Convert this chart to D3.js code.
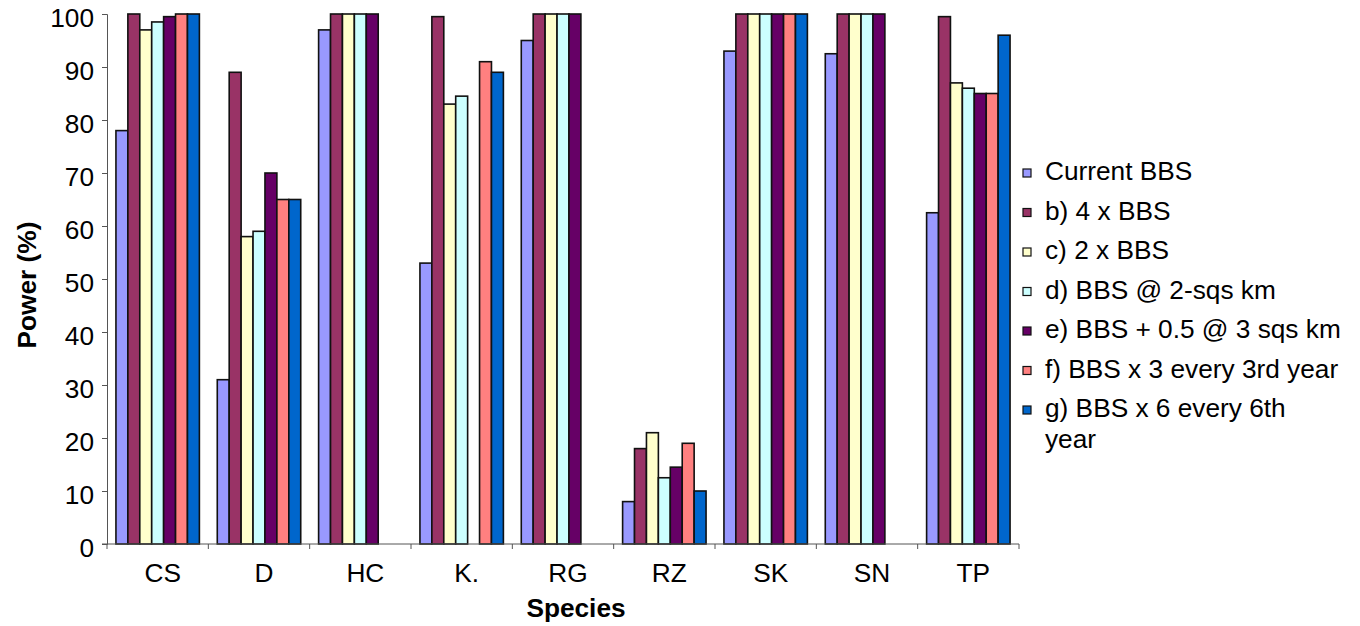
<!DOCTYPE html>
<html>
<head>
<meta charset="utf-8">
<script src="https://cdn.jsdelivr.net/npm/d3@7"></script>
<style>
  html, body { margin: 0; padding: 0; background: #fff; }
  svg { display: block; font-family: "Liberation Sans", Arial, sans-serif; }
</style>
</head>
<body>
<svg id="chart" width="1360" height="626"></svg>
<script>
const categories = ["CS", "D", "HC", "K.", "RG", "RZ", "SK", "SN", "TP"];
const seriesNames = [
  "Current BBS",
  "b) 4 x BBS",
  "c) 2 x BBS",
  "d) BBS @ 2-sqs km",
  "e) BBS + 0.5 @ 3 sqs km",
  "f) BBS x 3 every 3rd year",
  "g) BBS x 6 every 6th year"
];
const seriesColors = ["#9999FF", "#993366", "#FFFFCC", "#CCFFFF", "#660066", "#FF8080", "#0066CC"];
// values per series, in category order (null = no bar)
const currentBBS = [78, 31, 97, 53, 95, 8, 93, 92.5, 62.5];
const bbs4x      = [100, 89, 100, 99.5, 100, 18, 100, 100, 99.5];
const bbs2x      = [97, 58, 100, 83, 100, 21, 100, 100, 87];
const bbs2sqs    = [98.5, 59, 100, 84.5, 100, 12.5, 100, 100, 86];
const bbsHalf3   = [99.5, 70, 100, null, 100, 14.5, 100, 100, 85];
const bbs3x3rd   = [100, 65, null, 91, null, 19, 100, null, 85];
const bbs6x6th   = [100, 65, null, 89, null, 10, 100, null, 96];
const seriesValues = [currentBBS, bbs4x, bbs2x, bbs2sqs, bbsHalf3, bbs3x3rd, bbs6x6th];
const yTicks = [0, 10, 20, 30, 40, 50, 60, 70, 80, 90, 100];

(function () {
const svg = d3.select("#chart");
const pLeft = 107, pRight = 1019, pTop = 14, pBottom = 544;
const FS = 25, SX = 1.05;

const x = d3.scaleBand().domain(categories).range([pLeft, pRight]).padding(0);
const bw = x.bandwidth();
const w = bw / 8.5;
const xs = d3.scaleBand().domain(d3.range(seriesNames.length)).range([0.75 * w, bw - 0.75 * w]).padding(0);
const y = d3.scaleLinear().domain([0, 100]).range([pBottom, pTop]);

// bars
seriesValues.forEach((vals, si) => {
  svg.append("g").selectAll("rect")
    .data(vals.map((v, ci) => ({ v, c: categories[ci] })).filter(d => d.v != null))
    .join("rect")
    .attr("x", d => x(d.c) + xs(si))
    .attr("y", d => y(d.v))
    .attr("width", xs.bandwidth())
    .attr("height", d => y(0) - y(d.v))
    .attr("fill", seriesColors[si])
    .attr("stroke", "#111")
    .attr("stroke-width", 1.6);
});

// y axis
const yAxis = d3.axisLeft(y).tickValues(yTicks).tickSize(5).tickFormat(d3.format("d"));
const gy = svg.append("g").attr("transform", `translate(${pLeft},0)`).call(yAxis);
gy.select(".domain").attr("stroke", "#555");
gy.selectAll(".tick line").attr("stroke", "#555");
gy.selectAll(".tick text").remove();
yTicks.forEach(t => {
  svg.append("text")
    .attr("transform", `translate(94,${y(t) + 13}) scale(${SX},1)`)
    .attr("text-anchor", "end")
    .attr("font-size", FS)
    .text(t);
});

// x axis
const gx = svg.append("g").attr("transform", `translate(0,${pBottom})`);
gx.append("line").attr("x1", pLeft - 5).attr("x2", pRight).attr("stroke", "#555");
const boundaries = categories.map(c => x(c)).concat([pRight]);
gx.selectAll("line.tk").data(boundaries).join("line").attr("class", "tk")
  .attr("x1", d => d).attr("x2", d => d).attr("y1", 0).attr("y2", 5).attr("stroke", "#555");
categories.forEach(c => {
  svg.append("text")
    .attr("transform", `translate(${x(c) + bw / 2 + 5},${pBottom + 38}) scale(${SX},1)`)
    .attr("text-anchor", "middle")
    .attr("font-size", FS)
    .text(c);
});

// axis titles
svg.append("text")
  .attr("transform", `translate(576,617) scale(${SX},1)`)
  .attr("text-anchor", "middle").attr("font-size", FS).attr("font-weight", "bold")
  .text("Species");
svg.append("text")
  .attr("transform", `translate(36,285) rotate(-90) scale(${SX},1)`)
  .attr("text-anchor", "middle").attr("font-size", FS).attr("font-weight", "bold")
  .text("Power (%)");

// legend
const legendLines = [
  ["Current BBS"],
  ["b) 4 x BBS"],
  ["c) 2 x BBS"],
  ["d) BBS @ 2-sqs km"],
  ["e) BBS + 0.5 @ 3 sqs km"],
  ["f) BBS x 3 every 3rd year"],
  ["g) BBS x 6 every 6th", "year"]
];
const lg = svg.append("g");
legendLines.forEach((lines, i) => {
  const cy = 171 + i * 39.5;
  lg.append("rect")
    .attr("x", 1023).attr("y", cy - 2).attr("width", 8).attr("height", 8)
    .attr("fill", seriesColors[i]).attr("stroke", "#111").attr("stroke-width", 1.2);
  lines.forEach((t, j) => {
    lg.append("text")
      .attr("transform", `translate(1045,${cy + 9 + j * 31}) scale(${SX},1)`)
      .attr("font-size", FS)
      .text(t);
  });
});
})();
</script>
</body>
</html>
